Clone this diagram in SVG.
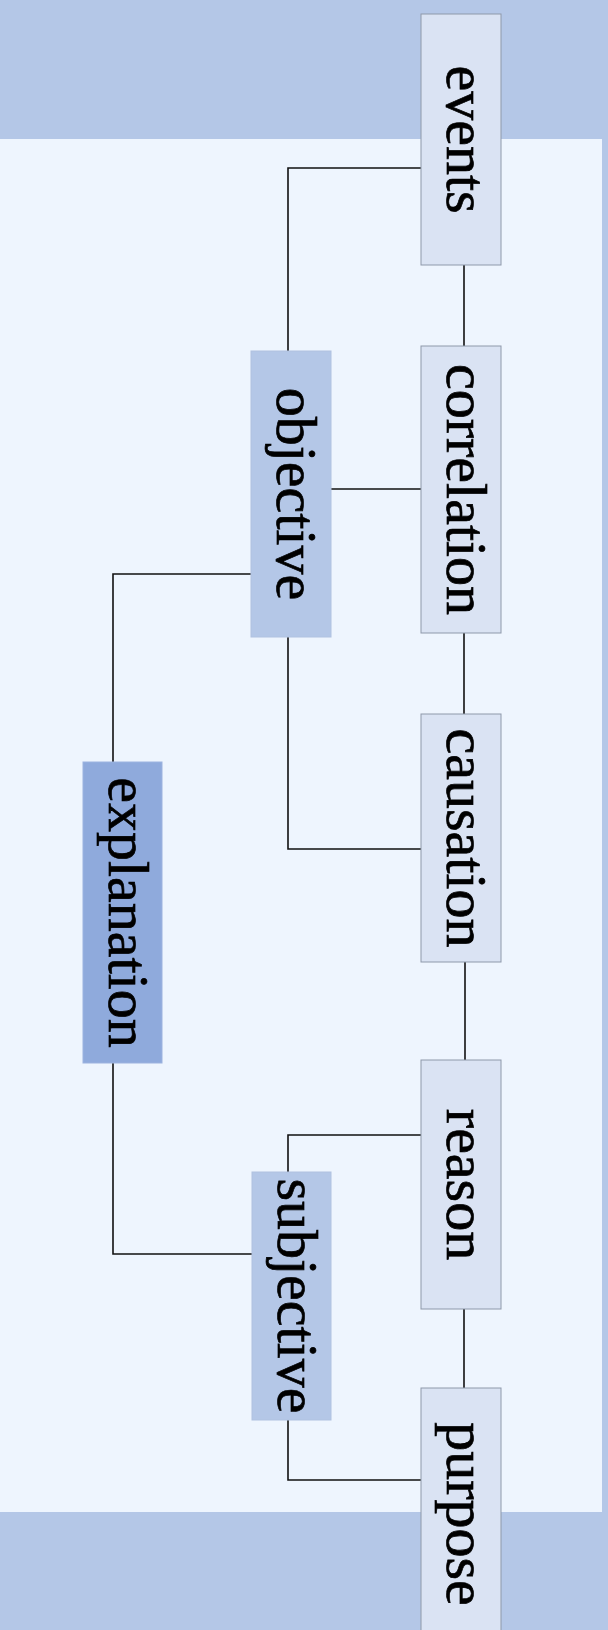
<svg xmlns="http://www.w3.org/2000/svg" width="608" height="1630" viewBox="0 0 608 1630">
<style>
.light{fill:#dae3f3;stroke:#8e99aa;stroke-width:1}
.mid{fill:#b4c7e7;stroke:#b0c2e0;stroke-width:1}
.dark{fill:#8faadc;stroke:#9cb3df;stroke-width:1}
.lbl{font-family:"Liberation Serif","Times New Roman",serif;font-size:58px;fill:#000;stroke:#000;stroke-width:0.7;text-anchor:middle}
.conn{fill:none;stroke:#111;stroke-width:1.6}
</style>
<rect x="0" y="0" width="608" height="1630" fill="#b4c7e7"/>
<rect x="0" y="139" width="602" height="1373" fill="#eef5fe"/>
<g id="connectors" class="conn">
<path d="M421,168 H288 V351"/>
<path d="M464,265 V346"/>
<path d="M421,489 H331"/>
<path d="M251,574 H113 V762"/>
<path d="M288,637 V849 H421"/>
<path d="M464,633 V714"/>
<path d="M465,962 V1060"/>
<path d="M113,1063 V1254 H252"/>
<path d="M421,1135 H288 V1172"/>
<path d="M288,1420 V1480 H421"/>
<path d="M464,1309 V1388"/>
</g>
<g id="events"><rect class="light" x="421" y="14" width="80" height="251"/><text class="lbl" transform="translate(461,139.5) rotate(90)" y="14">events</text></g>
<g id="correlation"><rect class="light" x="421" y="346" width="80" height="287"/><text class="lbl" transform="translate(461,489.5) rotate(90)" y="14">correlation</text></g>
<g id="causation"><rect class="light" x="421" y="714" width="80" height="248"/><text class="lbl" transform="translate(461,838) rotate(90)" y="14">causation</text></g>
<g id="reason"><rect class="light" x="421" y="1060" width="80" height="249"/><text class="lbl" transform="translate(461,1184.5) rotate(90)" y="14">reason</text></g>
<g id="purpose"><rect class="light" x="421" y="1388" width="80" height="252"/><text class="lbl" transform="translate(461,1514) rotate(90)" y="14">purpose</text></g>
<g id="objective"><rect class="mid" x="251" y="351" width="80" height="286"/><text class="lbl" transform="translate(291,494) rotate(90)" y="14">objective</text></g>
<g id="subjective"><rect class="mid" x="252" y="1172" width="79" height="248"/><text class="lbl" transform="translate(291.5,1296) rotate(90)" y="14">subjective</text></g>
<g id="explanation"><rect class="dark" x="83" y="762" width="79" height="301"/><text class="lbl" transform="translate(122.5,912.5) rotate(90)" y="14">explanation</text></g>
</svg>
